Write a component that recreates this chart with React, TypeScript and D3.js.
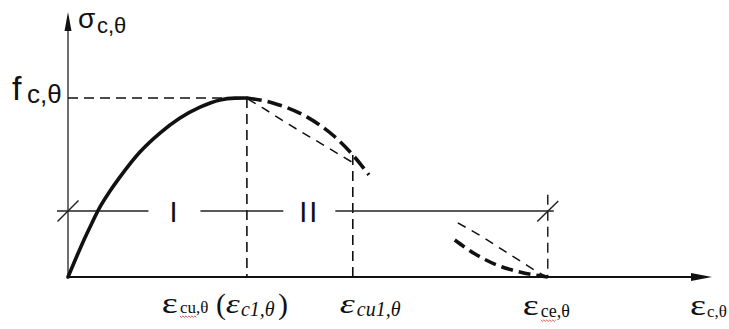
import React from "react";
import * as d3 from "d3";

// ---- data (strain relative to eps_c1,θ ; stress relative to f_c,θ) ----
const risingBranch: [number, number][] = [
  [0, 0],
  [0.045, 0.106],
  [0.089, 0.207],
  [0.134, 0.302],
  [0.179, 0.391],
  [0.235, 0.48],
  [0.291, 0.559],
  [0.402, 0.698],
  [0.514, 0.804],
  [0.626, 0.888],
  [0.738, 0.949],
  [0.85, 0.989],
  [0.933, 0.999],
  [1, 1],
];
const descendingThick: [number, number][] = [
  [1, 1],
  [1.145, 0.972],
  [1.335, 0.894],
  [1.48, 0.793],
  [1.592, 0.682],
  [1.682, 0.57],
];
const descendingThin: [number, number][] = [
  [1.006, 0.994],
  [1.089, 0.944],
  [1.24, 0.849],
  [1.408, 0.749],
  [1.587, 0.642],
];
const tailThick: [number, number][] = [
  [2.162, 0.207],
  [2.285, 0.123],
  [2.397, 0.067],
  [2.525, 0.028],
  [2.682, 0],
];
const tailThin: [number, number][] = [
  [2.179, 0.302],
  [2.318, 0.223],
  [2.43, 0.151],
  [2.536, 0.084],
  [2.637, 0.022],
  [2.682, 0],
];
const epsC1 = 1;
const epsCu1 = 1.592;
const epsCe = 2.682;
const regionLevel = 0.369;
const regionLabels = ["I", "II"];
const regionLabelStrain = [0.595, 1.349];
const xMax = 3.6;
const yMax = 1.48;

const W = 729;
const H = 329;

export default function App() {
  const x = d3.scaleLinear().domain([0, xMax]).range([68, 712]);
  const y = d3.scaleLinear().domain([0, yMax]).range([277, 12]);
  const line = d3
    .line<[number, number]>()
    .x((d) => x(d[0]))
    .y((d) => y(d[1]))
    .curve(d3.curveMonotoneX);

  const x0 = x(0);
  const y0 = y(0);
  const yMid = y(regionLevel);
  const yPeak = y(1);
  const gapHalf = 26;

  const midStart = x0 - 11;
  const midEnd = x(epsCe) + 6;
  const gaps = regionLabelStrain.map((s) => x(s));
  const segs: [number, number][] = [];
  let cur = midStart;
  gaps.forEach((g) => {
    segs.push([cur, g - gapHalf]);
    cur = g + gapHalf;
  });
  segs.push([cur, midEnd]);

  const serif = "'Liberation Serif', 'Times New Roman', serif";
  const sans = "'Liberation Sans', Arial, sans-serif";
  const ink = "#111";

  const wave = (sx: number, sy: number, len: number) => {
    const pts: string[] = [];
    for (let i = 0; i <= len; i += 1.5) {
      pts.push(`${sx + i},${sy + (Math.round(i / 1.5) % 2 === 0 ? 0 : 1.4)}`);
    }
    return "M" + pts.join(" L");
  };

  const xc1 = x(epsC1);
  const xcu1 = x(epsCu1);
  const xce = x(epsCe);
  const xend = x(xMax);

  return (
    <svg
      width={W}
      height={H}
      style={{ position: "absolute", left: 0, top: 0, background: "#fff" }}
    >
      <rect width={W} height={H} fill="#fff" />
      {/* axes */}
      <line x1={x0} y1={y0} x2={xend - 14} y2={y0} stroke={ink} strokeWidth={2} />
      <path
        d={`M${xend},${y0} L${xend - 21},${y0 - 4} L${xend - 21},${y0 + 4} Z`}
        fill={ink}
      />
      <line x1={x0} y1={y0} x2={x0} y2={y(yMax) + 14} stroke="#333" strokeWidth={1.4} />
      <path
        d={`M${x0},${y(yMax)} L${x0 - 3.5},${y(yMax) + 19} L${x0 + 3.5},${y(yMax) + 19} Z`}
        fill={ink}
      />

      {/* reference dashed lines */}
      <line x1={x0} y1={yPeak} x2={xc1} y2={yPeak} stroke={ink} strokeWidth={1.6} strokeDasharray="10 6" />
      <line x1={xc1} y1={yPeak} x2={xc1} y2={y0} stroke={ink} strokeWidth={1.6} strokeDasharray="10 6" />
      <line x1={xcu1} y1={y(0.682)} x2={xcu1} y2={y0} stroke={ink} strokeWidth={1.6} strokeDasharray="10 6" />
      <line x1={xce} y1={y(0.46)} x2={xce} y2={y0} stroke={ink} strokeWidth={1.4} strokeDasharray="10 6" />

      {/* region line */}
      {segs.map((s, i) => (
        <line key={i} x1={s[0]} y1={yMid} x2={s[1]} y2={yMid} stroke="#222" strokeWidth={1.5} />
      ))}
      <line x1={x0 - 10.5} y1={yMid + 10.5} x2={x0 + 10.5} y2={yMid - 10.5} stroke="#222" strokeWidth={1.5} />
      <line x1={xce - 10.5} y1={yMid + 10.5} x2={xce + 10.5} y2={yMid - 10} stroke="#222" strokeWidth={1.5} />
      {regionLabels.map((t, i) => (
        <text
          key={t}
          x={gaps[i]}
          y={yMid + 11}
          textAnchor="middle"
          fontFamily={sans}
          fontSize={29}
          fill={ink}
          letterSpacing={2}
        >
          {t}
        </text>
      ))}

      {/* curves */}
      <path d={line(risingBranch) || ""} fill="none" stroke={ink} strokeWidth={3.6} strokeLinecap="round" />
      <path d={line(descendingThick) || ""} fill="none" stroke={ink} strokeWidth={3.6} strokeDasharray="15 6" />
      <path d={line(descendingThin) || ""} fill="none" stroke={ink} strokeWidth={1.5} strokeDasharray="9 7" />
      <path d={line(tailThick) || ""} fill="none" stroke={ink} strokeWidth={3.6} strokeDasharray="12 6" />
      <path d={line(tailThin) || ""} fill="none" stroke={ink} strokeWidth={1.5} strokeDasharray="9 7" />

      {/* axis labels: stress */}
      <text x={x0 + 10} y={28} fontFamily={sans} fontSize={28} fill={ink}>σ</text>
      <text x={x0 + 29} y={33} fontFamily={sans} fontSize={22} fill={ink}>c,θ</text>
      <text x={12} y={100} fontFamily={sans} fontSize={34} fill={ink}>f</text>
      <text x={27} y={103} fontFamily={sans} fontSize={26} fill={ink}>c,θ</text>

      {/* strain labels */}
      <text x={xc1 - 85} y={313} fontFamily={serif} fontSize={30} fill={ink} textLength={16} lengthAdjust="spacingAndGlyphs">ε</text>
      <text x={xc1 - 67} y={313} fontFamily={serif} fontSize={17} fill={ink}>cu,θ</text>
      <path d={wave(xc1 - 67, 316, 17)} fill="none" stroke="#c33" strokeWidth={0.8} />
      <text x={xc1 - 31} y={314} fontFamily={serif} fontSize={30} fill={ink}>(</text>
      <text x={xc1 - 21} y={313} fontFamily={serif} fontStyle="italic" fontSize={28} fill={ink} textLength={14} lengthAdjust="spacingAndGlyphs">ε</text>
      <text x={xc1 - 6} y={316} fontFamily={serif} fontStyle="italic" fontSize={20} fill={ink}>c1,θ</text>
      <text x={xc1 + 31} y={314} fontFamily={serif} fontSize={30} fill={ink}>)</text>

      <text x={xcu1 - 13} y={313} fontFamily={serif} fontStyle="italic" fontSize={28} fill={ink} textLength={15} lengthAdjust="spacingAndGlyphs">ε</text>
      <text x={xcu1 + 4} y={316} fontFamily={serif} fontStyle="italic" fontSize={20} fill={ink}>cu1,θ</text>

      <text x={xce - 25} y={315} fontFamily={serif} fontSize={30} fill={ink} textLength={16} lengthAdjust="spacingAndGlyphs">ε</text>
      <text x={xce - 7} y={317} fontFamily={serif} fontSize={18} fill={ink}>ce,θ</text>
      <path d={wave(xce - 7, 320, 15)} fill="none" stroke="#c33" strokeWidth={0.8} />

      <text x={xend - 22} y={315} fontFamily={serif} fontSize={30} fill={ink} textLength={16} lengthAdjust="spacingAndGlyphs">ε</text>
      <text x={xend - 5} y={317} fontFamily={serif} fontSize={17} fill={ink}>c,θ</text>
    </svg>
  );
}
